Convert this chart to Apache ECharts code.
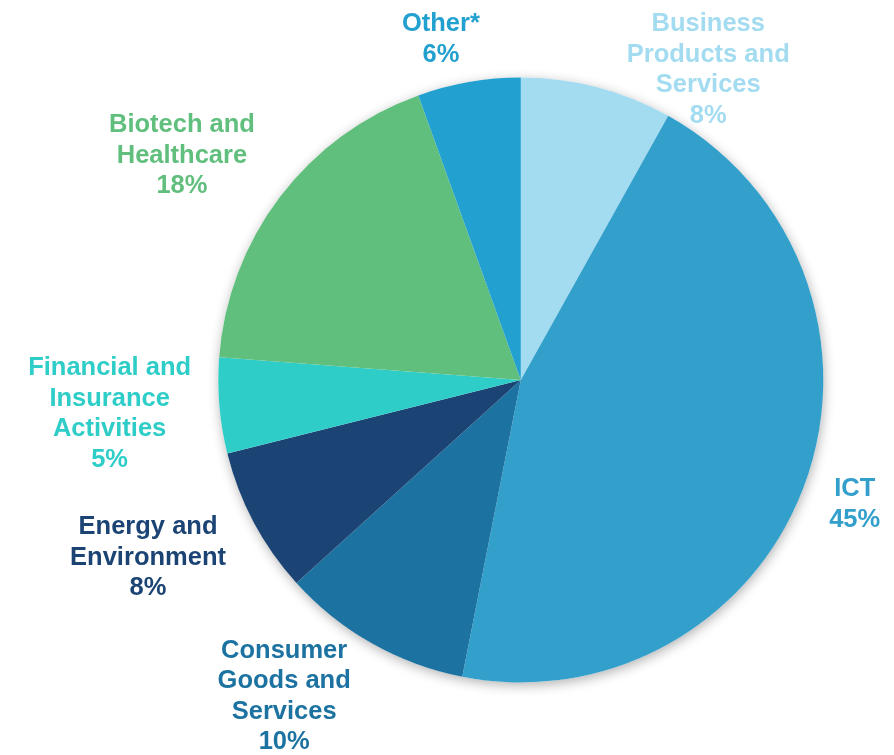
<!DOCTYPE html>
<html>
<head>
<meta charset="utf-8">
<script src="https://cdn.jsdelivr.net/npm/echarts@6/dist/echarts.min.js"></script>
<style>
html,body{margin:0;padding:0;background:#fff;}
#chart{width:894px;height:755px;}
</style>
</head>
<body>
<div id="chart"></div>
<script>
// Categories (clockwise from 12 o'clock)
var categories = [
  'Business\nProducts and\nServices',
  'ICT',
  'Consumer\nGoods and\nServices',
  'Energy and\nEnvironment',
  'Financial and\nInsurance\nActivities',
  'Biotech and\nHealthcare',
  'Other*'
];
// Share of each sector (%)
var shares = [8.1, 45.0, 10.2, 7.8, 5.1, 18.3, 5.5];
var colors = ['#a3dcf0', '#33a0cc', '#1c72a0', '#1b4474', '#2ecdc8', '#60bf7d', '#22a0cf'];
// label distance tuning (length radial, length2 horizontal)
var lineLen  = [21, 50, 58, 69, 63, 73, 46];
var lineLen2 = [106, 3, 59, 45, 47, 40, 20];

var data = categories.map(function (c, i) {
  return {
    name: c,
    value: shares[i],
    itemStyle: { color: colors[i] },
    label: { color: colors[i] },
    labelLine: { length: lineLen[i], length2: lineLen2[i] }
  };
});

var chart = echarts.init(document.getElementById('chart'), null, { renderer: 'canvas' });
chart.setOption({
  backgroundColor: '#ffffff',
  animation: false,
  series: [
    {
      type: 'pie',
      silent: true,
      center: [520.8, 380],
      radius: [0, 302.5],
      label: { show: false },
      labelLine: { show: false },
      itemStyle: {
        color: '#ffffff',
        shadowBlur: 12,
        shadowOffsetX: 1,
        shadowOffsetY: 3,
        shadowColor: 'rgba(0,0,0,0.30)'
      },
      data: [{ value: 1, name: 'bg' }]
    },
    {
      type: 'pie',
      center: [520.8, 380],
      radius: [0, 302.5],
      startAngle: 90,
      clockwise: true,
      avoidLabelOverlap: false,
      emphasis: { disabled: true },
      itemStyle: { borderWidth: 0 },
      label: {
        show: true,
        position: 'outside',
        alignTo: 'none',
        distanceToLabelLine: 0,
        width: 240,
        overflow: 'none',
        fontFamily: '"Liberation Sans", Arial, sans-serif',
        fontWeight: 'bold',
        fontSize: 25.5,
        lineHeight: 30.5,
        formatter: function (p) {
          return p.name + '\n' + Math.round(p.value) + '%';
        }
      },
      labelLine: { show: false },
      labelLayout: function () {
        return { align: 'center', verticalAlign: 'middle', dy: 3 };
      },
      data: data
    }
  ]
});
</script>
</body>
</html>
